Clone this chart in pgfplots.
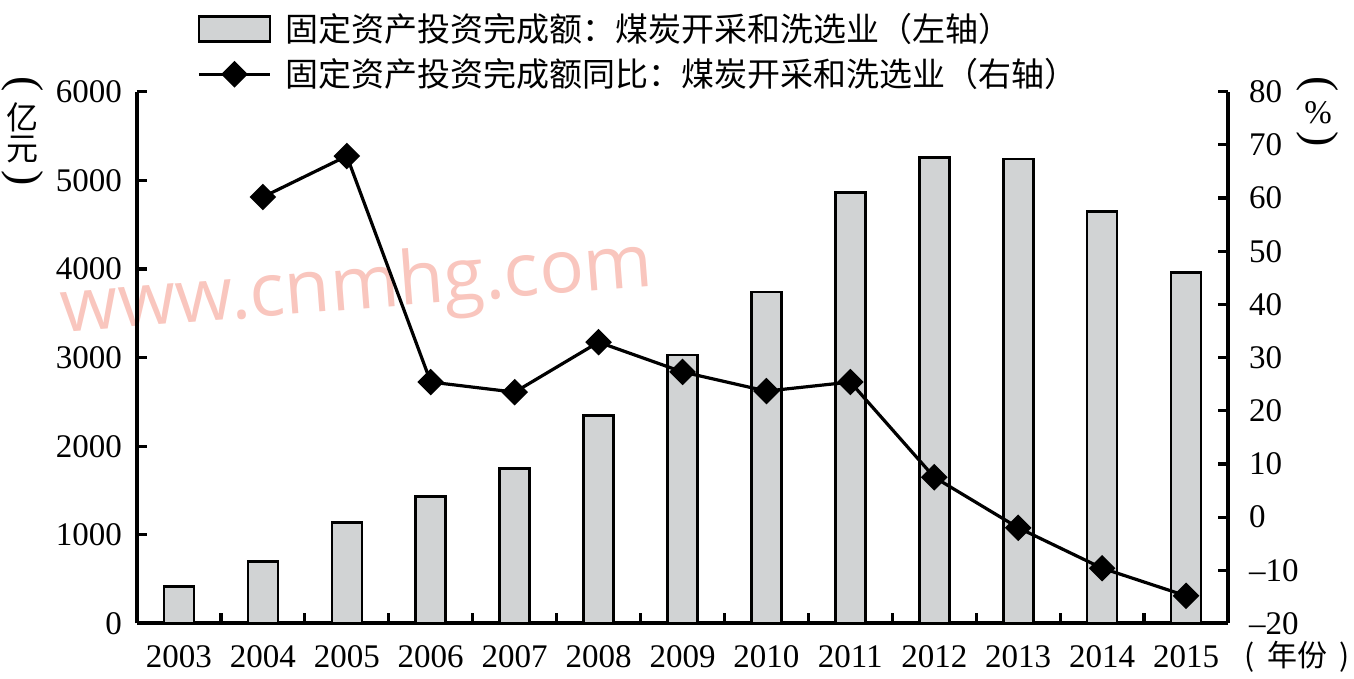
\documentclass[border=0pt]{standalone}
\usepackage{fontspec}
\setmainfont{Liberation Serif}
\newfontfamily\cjk{Noto Sans CJK SC}
\newfontfamily\wm{Open Sans}
\usepackage{pgfplots}
\pgfplotsset{compat=1.18}
\definecolor{barfill}{RGB}{209,211,212}
\definecolor{wmcol}{RGB}{249,198,190}
\pgfplotsset{barlegend/.style={legend image code/.code={\draw[fill=barfill,draw=black,line width=1.3pt] (0pt,-6.25pt) rectangle (35.5pt,6.25pt);}},
  linelegend/.style={legend image code/.code={\draw[##1,mark repeat=2,mark phase=2] plot coordinates {(0pt,0pt) (17.75pt,0pt) (35.5pt,0pt)};}}}
\begin{document}
\begin{tikzpicture}[font=\fontsize{16.5}{19}\selectfont]
\path[use as bounding box] (-68.5pt,-27.75pt) rectangle (608.5pt,311.75pt);
\node[font=\wm\fontsize{37}{40}\selectfont, text=wmcol, rotate=4.5, inner sep=0pt] at (110pt,166.75pt) {www.cnmhg.com};
\begin{axis}[
  scale only axis, width=545.5pt, height=265.9pt,
  xmin=-0.5, xmax=12.5, ymin=0, ymax=6000,
  axis x line*=bottom, axis y line*=left,
  axis line style={line width=2pt, -},
  xtick={0,...,12},
  xticklabels={2003,2004,2005,2006,2007,2008,2009,2010,2011,2012,2013,2014,2015},
  major x tick style={draw=none},
  minor xtick={0.5,1.5,...,11.5},
  ytick={0,1000,2000,3000,4000,5000,6000},
  yticklabels={0,1000,2000,3000,4000,5000,6000},
  tick style={line width=1.6pt, black},
  major tick length=5pt, minor tick length=5pt,
  tick align=inside,
  xticklabel style={yshift=-7.5pt},
  yticklabel style={xshift=-4pt},
  clip=false,
]
\addplot[ybar, bar width=15pt, fill=barfill, draw=black, line width=1.3pt] coordinates {
(0,415) (1,698) (2,1138) (3,1430) (4,1750) (5,2350) (6,3030) (7,3740) (8,4860) (9,5260) (10,5240) (11,4650) (12,3960)};
\end{axis}
\begin{axis}[
  scale only axis, width=545.5pt, height=265.9pt,
  xmin=-0.5, xmax=12.5, ymin=-20, ymax=80,
  axis x line=none, axis y line*=right,
  axis line style={line width=2pt, -},
  ytick={-20,-10,0,10,20,30,40,50,60,70,80},
  yticklabels={–20,–10,0,10,20,30,40,50,60,70,80},
  tick style={line width=1.6pt, black},
  major tick length=5pt,
  tick align=inside,
  yticklabel style={xshift=7pt},
  clip=false,
  legend style={at={(axis description cs:0.055,1.1555)}, anchor=north west, draw=none, fill=none,
    font=\cjk\fontsize{16.5}{19}\selectfont, row sep=3pt, inner sep=0pt,
    /tikz/every odd column/.append style={column sep=5pt}},
  legend cell align=left,
]
\addlegendimage{barlegend}
\addlegendentry{固定资产投资完成额：煤炭开采和洗选业（左轴）}
\addplot[line width=1.6pt, black, mark=square*, mark size=3.9pt, mark options={rotate=45, solid}, linelegend]
  coordinates {(1,60.2) (2,67.9) (3,25.4) (4,23.5) (5,32.9) (6,27.3) (7,23.7) (8,25.4) (9,7.5) (10,-2.0) (11,-9.6) (12,-14.8)};
\addlegendentry{固定资产投资完成额同比：煤炭开采和洗选业（右轴）}
\end{axis}
% left unit label (亿元), vertical
\node[rotate=-90, inner sep=0pt, font=\fontsize{23}{25}\selectfont] at (-57pt,269.5pt) {(};
\node[inner sep=0pt, font=\cjk\fontsize{16}{18}\selectfont] at (-57pt,253.25pt) {亿};
\node[inner sep=0pt, font=\cjk\fontsize{16}{18}\selectfont] at (-57pt,236.75pt) {元};
\node[rotate=-90, inner sep=0pt, font=\fontsize{23}{25}\selectfont] at (-57pt,222.75pt) {)};
% right unit label (%), vertical
\node[rotate=-90, inner sep=0pt, font=\fontsize{23}{25}\selectfont] at (590.5pt,269.5pt) {(};
\node[inner sep=0pt, font=\fontsize{16.5}{19}\selectfont] at (590.5pt,255.25pt) {\%};
\node[rotate=-90, inner sep=0pt, font=\fontsize{23}{25}\selectfont] at (590.5pt,242.25pt) {)};
\node[font=\cjk\fontsize{15}{18}\selectfont, inner sep=0pt] at (580pt,-16.75pt) {(\kern6pt 年份\kern6pt )};
\end{tikzpicture}
\end{document}
